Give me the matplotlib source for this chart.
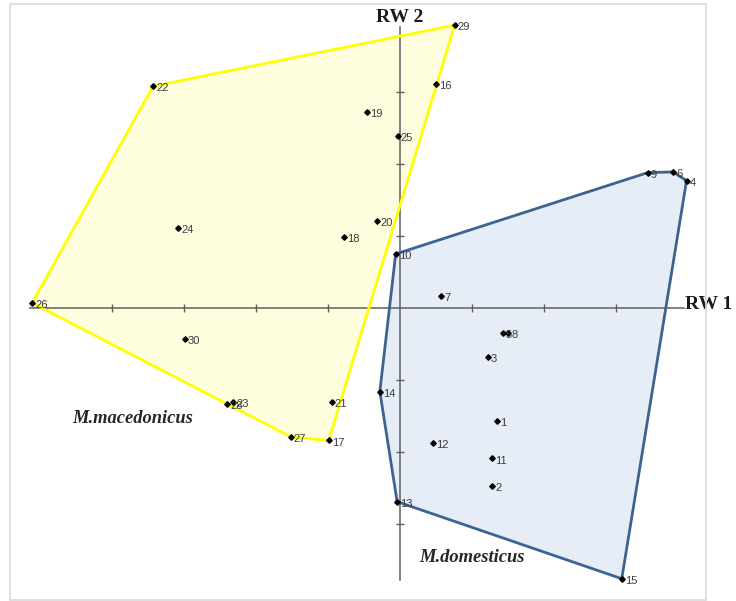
import matplotlib
matplotlib.use("Agg")
import matplotlib.pyplot as plt
from matplotlib.patches import Polygon, Rectangle
import numpy as np

# ---- data (RW1, RW2 scores) ----
dom_ids = [1, 2, 3, 4, 5, 6, 7, 8, 9, 10, 11, 12, 13, 14, 15]
dom_rw1 = [1.35, 1.28, 1.22, 3.98, 1.43, 3.79, 0.57, 1.50, 3.44, -0.06, 1.28, 0.46, -0.04, -0.28, 3.08]
dom_rw2 = [-1.57, -2.47, -0.68, 1.77, -0.35, 1.89, 0.17, -0.35, 1.88, 0.75, -2.09, -1.87, -2.69, -1.16, -3.76]

mac_ids = [16, 17, 18, 19, 20, 21, 22, 23, 24, 25, 26, 27, 28, 29, 30]
mac_rw1 = [0.50, -0.99, -0.78, -0.46, -0.32, -0.95, -3.43, -2.32, -3.08, -0.03, -5.11, -1.52, -2.40, 0.76, -2.99]
mac_rw2 = [3.11, -1.84, 0.99, 2.72, 1.21, -1.31, 3.08, -1.30, 1.11, 2.39, 0.07, -1.79, -1.33, 3.93, -0.43]

x_ticks = [-4, -3, -2, -1, 1, 2, 3]
y_ticks = [-3, -2, -1, 1, 2, 3]


def convex_hull(xs, ys):
    pts = sorted(set(zip(xs, ys)))
    def cross(o, a, b):
        return (a[0] - o[0]) * (b[1] - o[1]) - (a[1] - o[1]) * (b[0] - o[0])
    lower, upper = [], []
    for p in pts:
        while len(lower) >= 2 and cross(lower[-2], lower[-1], p) <= 0:
            lower.pop()
        lower.append(p)
    for p in reversed(pts):
        while len(upper) >= 2 and cross(upper[-2], upper[-1], p) <= 0:
            upper.pop()
        upper.append(p)
    return lower[:-1] + upper[:-1]


W, H = 736, 601
fig = plt.figure(figsize=(W / 100, H / 100), dpi=100)
ax = fig.add_axes([0, 0, 1, 1])
unit = 72.0
ox, oy = 400.0, 308.0
ax.set_xlim(-ox / unit, (W - ox) / unit)
ax.set_ylim((oy - H) / unit, oy / unit)
ax.axis("off")

# outer light frame
fig.patches.append(Rectangle((10 / W, 1 - 600 / H), (706 - 10) / W, (600 - 4) / H,
                             transform=fig.transFigure, fill=False,
                             edgecolor="#d9d9d9", linewidth=1.2, zorder=0))

# hull fills
mac_hull = convex_hull(mac_rw1, mac_rw2)
dom_hull = convex_hull(dom_rw1, dom_rw2)
ax.add_patch(Polygon(mac_hull, closed=True, facecolor="#fefddd", edgecolor="none", zorder=1))
ax.add_patch(Polygon(dom_hull, closed=True, facecolor="#e7edf6", edgecolor="none", zorder=1))

# axes lines
axis_col = "#5f5f5f"
ax.plot([-5.14, 3.95], [0, 0], color=axis_col, lw=1.1, zorder=2)
ax.plot([0, 0], [-3.78, 3.90], color=axis_col, lw=1.1, zorder=2)
ax.plot(x_ticks, [0] * len(x_ticks), ls="none", marker="|", ms=5.5, mew=1.0, color=axis_col, zorder=2)
ax.plot([0] * len(y_ticks), y_ticks, ls="none", marker="_", ms=5.5, mew=1.0, color=axis_col, zorder=2)

# hull outlines
ax.add_patch(Polygon(mac_hull, closed=True, facecolor="none", edgecolor="#ffff00", lw=2.0, zorder=3))
ax.add_patch(Polygon(dom_hull, closed=True, facecolor="none", edgecolor="#3d6491", lw=2.0, zorder=3))

# points + labels
for ids, xs, ys in [(dom_ids, dom_rw1, dom_rw2), (mac_ids, mac_rw1, mac_rw2)]:
    ax.plot(xs, ys, ls="none", marker="D", ms=2.8, color="black", zorder=4)
    for i, x, y in zip(ids, xs, ys):
        ax.annotate(str(i), (x, y), xytext=(2.2, -1.5), textcoords="offset points",
                    ha="left", va="center", fontsize=8, family="Liberation Sans",
                    color="#3c3c3c", zorder=5)

# axis titles
ax.text(0, (oy - 17) / unit, "RW 2", ha="center", va="center", fontsize=14,
        fontweight="bold", family="Liberation Serif", color="#1a1a1a")
ax.text((685 - ox) / unit, (oy - 305) / unit, "RW 1", ha="left", va="center", fontsize=14,
        fontweight="bold", family="Liberation Serif", color="#1a1a1a")

# group labels
ax.text((72 - ox) / unit, (oy - 419) / unit, "M.macedonicus", ha="left", va="center",
        fontsize=13.3, style="italic", fontweight="bold", family="Liberation Serif", color="#262626")
ax.text((419 - ox) / unit, (oy - 558) / unit, "M.domesticus", ha="left", va="center",
        fontsize=13.3, style="italic", fontweight="bold", family="Liberation Serif", color="#262626")

fig.savefig("out.png", dpi=100)
